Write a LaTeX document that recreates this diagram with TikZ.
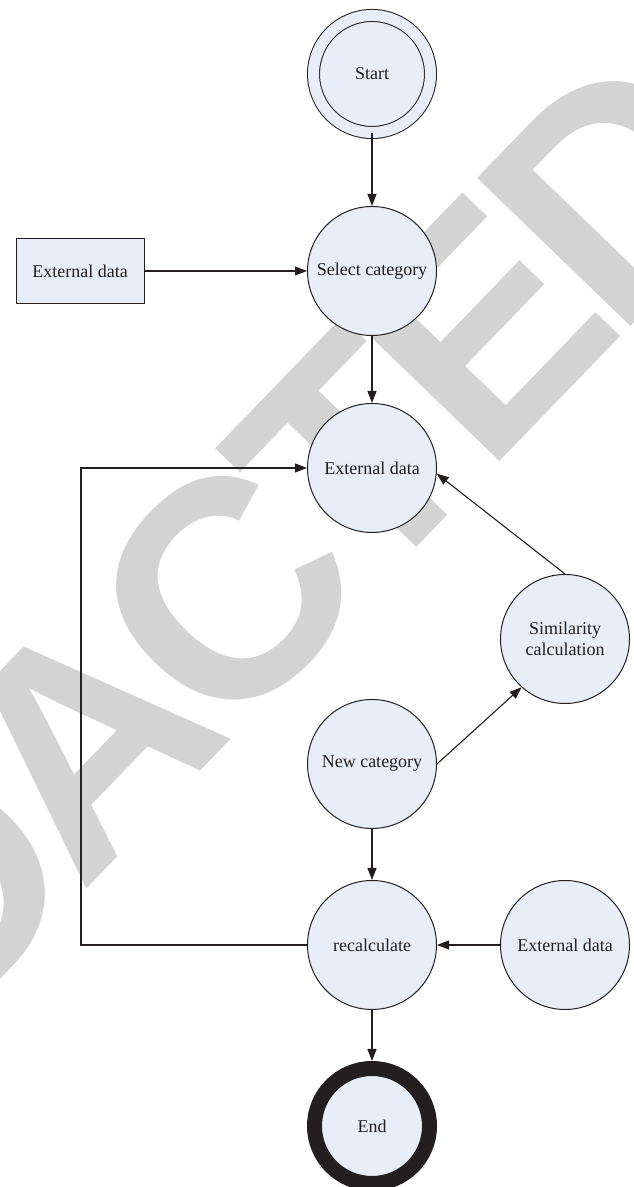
\documentclass[tikz,border=0pt]{standalone}
\usepackage{fontspec}
\setmainfont{Liberation Serif}
\newfontfamily\stampfont{Liberation Sans}
\usetikzlibrary{arrows.meta}
\definecolor{nodefill}{RGB}{232,238,248}
\definecolor{ink}{RGB}{35,31,32}
\definecolor{stampgray}{RGB}{211,211,211}
\newcommand\tightgap{\kern-0.06em}

\begin{document}
\begin{tikzpicture}[x=0.5pt,y=0.5pt,
  state/.style={circle,draw=ink,fill=nodefill,line width=0.5pt,minimum size=64.5pt,
    inner sep=0pt,text=ink,align=center,font=\fontsize{9}{10.7}\selectfont},
  datarect/.style={rectangle,draw=ink,fill=nodefill,line width=0.5pt,minimum width=64pt,
    minimum height=32.5pt,text=ink,font=\fontsize{9}{10.7}\selectfont},
  startstate/.style={state,line width=0.5pt,double=nodefill,double distance=5.5pt,minimum size=58.5pt},
  endstate/.style={state,line width=7.5pt,minimum size=57.5pt},
  flow/.style={draw=ink,line width=0.55pt,-{Triangle[length=6pt,width=4.5pt]}}]
\useasboundingbox (0,0) rectangle (633,1187);
\clip (0,0) rectangle (633,1187);
% watermark behind the chart
\node[rotate=46,text=stampgray,inner sep=0pt,font=\stampfont\bfseries\fontsize{155}{155}\selectfont] (stamp) at (142,508)
  {R\tightgap E\tightgap D\tightgap A\tightgap C\tightgap T\tightgap E\tightgap D};

\node[startstate] (start) at (372,1113) {Start};
\node[state] (select) at (372,916) {Select category};
\node[datarect] (extin) at (80,916) {External data};
\node[state] (extdata) at (372,719) {External data};
\node[state] (simcalc) at (565,548) {Similarity\\calculation};
\node[state] (newcat) at (372,423) {New category};
\node[state] (recalc) at (372,242) {recalculate};
\node[state] (extright) at (565,242) {External data};
\node[endstate] (finish) at (372,61) {End};
\coordinate (bend) at (81,242);

\draw[flow] (start) -- (select);
\draw[flow] (extin) -- (select);
\draw[flow] (select) -- (extdata);
\draw[flow] (simcalc.north) -- (extdata.-5);
\draw[flow] (newcat.east) -- (simcalc.228);
\draw[flow] (newcat) -- (recalc);
\draw[flow] (extright) -- (recalc);
\draw[flow] (recalc.west) -- (bend) |- (extdata.west);
\draw[flow] (recalc) -- (finish);
\end{tikzpicture}
\end{document}
